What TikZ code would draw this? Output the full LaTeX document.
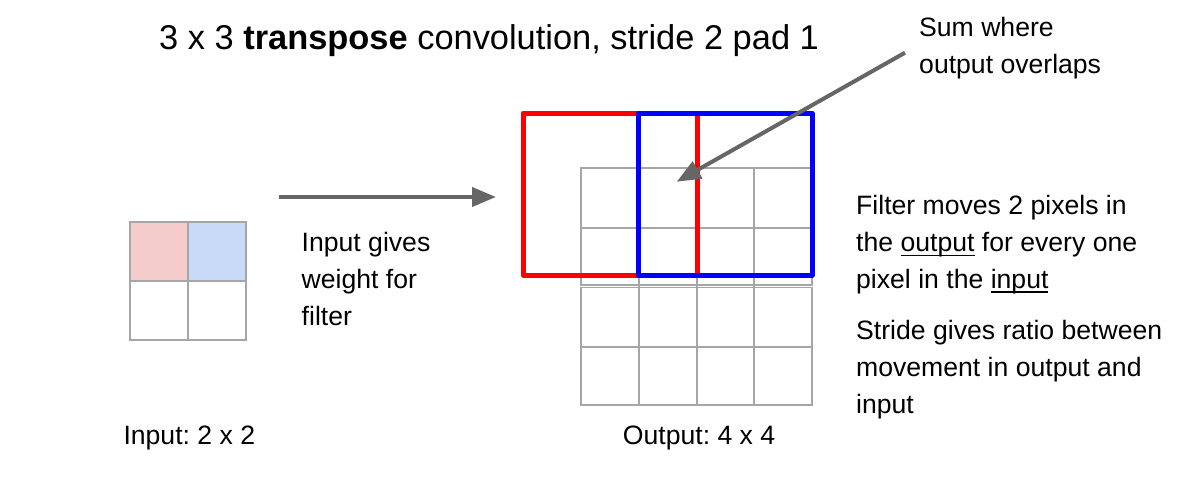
\documentclass[tikz,border=0pt]{standalone}
\usepackage{fontspec}
\setmainfont{Liberation Sans}
\usetikzlibrary{arrows.meta}
\definecolor{gridgray}{HTML}{A6A6A6}
\definecolor{arrowgray}{HTML}{666666}
\definecolor{cellpink}{HTML}{F4CCCC}
\definecolor{cellblue}{HTML}{C9DAF8}
\definecolor{boxred}{HTML}{FF0000}
\definecolor{boxblue}{HTML}{0000FF}
\newcommand\myul[1]{\setbox0\hbox{#1}\rlap{\rule[-4.5pt]{\wd0}{1.5pt}}\box0\relax}
\frenchspacing
\begin{document}
\begin{tikzpicture}[x=1pt,y=-1pt,
  gridline/.style={draw=gridgray,line width=1.4pt},
  filterbox/.style={line width=5pt,line join=round},
  bigarrow/.style={draw=arrowgray,line width=4pt,-{Triangle[length=24pt,width=19pt]}},
  txt/.style={inner sep=0pt,anchor=base west,align=left,font=\fontsize{26.6}{36.7}\selectfont},
  title/.style={inner sep=0pt,anchor=base west,font=\fontsize{34.4}{40}\selectfont}]
\useasboundingbox (0,0) rectangle (1181,482);
% input grid
\fill[cellpink] (130,222) rectangle (188,281);
\fill[cellblue] (188,222) rectangle (246,281);
\draw[gridline] (130,222) rectangle (246,340);
\draw[gridline] (188,222) -- (188,340);
\draw[gridline] (130,281) -- (246,281);
% output grid (two stacked 4x2 blocks)
\draw[gridline,line width=1.2pt] (581,168) rectangle (812,285);
\draw[gridline] (581,228) -- (812,228);
\draw[gridline,line width=1.2pt] (581,287.5) rectangle (812,405);
\draw[gridline] (581,347) -- (812,347);
\foreach \x in {639,697,754} {
  \draw[gridline] (\x,168) -- (\x,405);
}
% filter boxes
\draw[filterbox,boxred] (523,113) rectangle (697,275);
\draw[filterbox,boxblue] (638,113) rectangle (812,275);
% title
\node[title] (title) at (159,49.5) {3 x 3 \textbf{transpose} convolution, stride 2 pad 1};
% labels (anchored at the baseline of their last line)
\node[txt] (sum) at (919,73.3) {Sum where\\output overlaps};
\node[txt] (gives) at (301.5,325) {Input gives\\weight for\\filter};
\node[txt] (moves) at (856,288.3) {Filter moves 2 pixels in\\the \myul{output} for every one\\pixel in the \myul{input}};
\node[txt] (stride) at (856,413.3) {Stride gives ratio between\\movement in output and\\input};
\node[txt] (inlab) at (123.3,444.3) {Input: 2 x 2};
\node[txt] (outlab) at (622.7,444.3) {Output: 4 x 4};
% arrows
\coordinate (a1s) at (279,197);
\coordinate (a1e) at (496,197);
\coordinate (a2s) at (905,52.7);
\coordinate (a2e) at (676.7,181.7);
\draw[bigarrow] (a1s) -- (a1e);
\draw[bigarrow] (a2s) -- (a2e);
\end{tikzpicture}
\end{document}
